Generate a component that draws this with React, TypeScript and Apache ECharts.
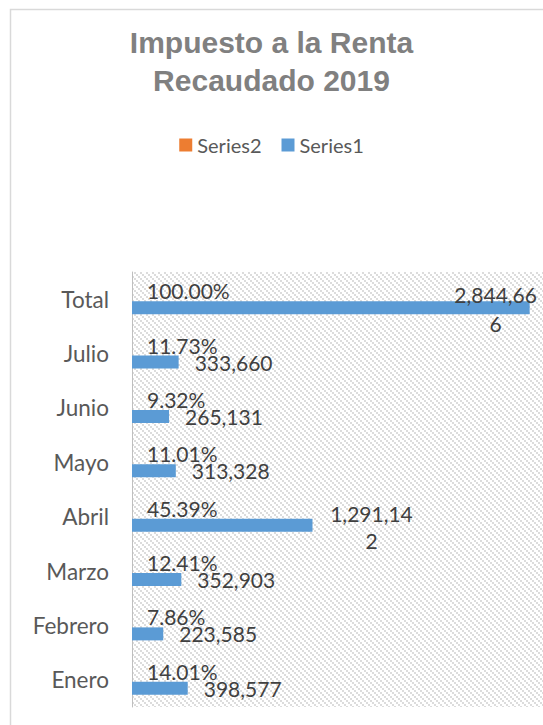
import React, { useEffect, useRef } from 'react';
import * as echarts from 'echarts';

const titleText = 'Impuesto a la Renta\nRecaudado 2019';
const categories = ['Enero', 'Febrero', 'Marzo', 'Abril', 'Mayo', 'Junio', 'Julio', 'Total'];
const series1Values = [398577, 223585, 352903, 1291142, 313328, 265131, 333660, 2844666];
const series2Values = [0.1401, 0.0786, 0.1241, 0.4539, 0.1101, 0.0932, 0.1173, 1.0];
const legendOrder = ['Series2', 'Series1'];

const FONT = 'Lato, Carlito, Calibri, sans-serif';

function makeHatch(): string {
  const c = document.createElement('canvas');
  const n = 6;
  c.width = n;
  c.height = n;
  const ctx = c.getContext('2d')!;
  ctx.fillStyle = '#ffffff';
  ctx.fillRect(0, 0, n, n);
  ctx.fillStyle = '#dcdcdc';
  for (let i = 0; i < n; i += 2) {
    ctx.fillRect(i, i, 2, 2);
  }
  return c.toDataURL();
}

const fmt = (v: number) => v.toLocaleString('en-US');
const fmtWrap = (v: number) => {
  const s = fmt(v);
  return s.length > 8 ? s.slice(0, 8) + '\n' + s.slice(8) : s;
};

export default function App() {
  const ref = useRef<HTMLDivElement>(null);
  useEffect(() => {
    document.body.style.margin = '0';
    if (!ref.current) return;
    const chart = echarts.init(ref.current, undefined, { renderer: 'svg' });
    const hatch = makeHatch();

    const s1Data = categories.map((c, i) => {
      const v = series1Values[i];
      if (c === 'Total') {
        return {
          value: v,
          label: {
            position: ['100%', '50%'],
            offset: [-34, 1],
            align: 'center',
            verticalAlign: 'middle',
            lineHeight: 29,
            formatter: () => fmtWrap(v),
          },
        };
      }
      if (c === 'Abril') {
        return {
          value: v,
          label: {
            position: ['100%', '50%'],
            offset: [59, 2],
            align: 'center',
            verticalAlign: 'middle',
            lineHeight: 27,
            formatter: () => fmtWrap(v),
          },
        };
      }
      return v;
    });

    chart.setOption({
      animation: false,
      backgroundColor: '#ffffff',
      title: {
        text: titleText,
        left: 'center',
        top: 18,
        textStyle: {
          fontFamily: '"Liberation Sans", Arial, sans-serif',
          fontWeight: 'bold',
          fontSize: 30,
          lineHeight: 38,
          color: '#808080',
        },
      },
      legend: {
        data: legendOrder,
        top: 130,
        left: 'center',
        itemWidth: 13,
        itemHeight: 13,
        itemGap: 20,
        icon: 'rect',
        textStyle: { fontFamily: FONT, fontSize: 20, color: '#595959' },
      },
      grid: {
        left: 132,
        top: 272,
        right: 0,
        bottom: 18,
        show: true,
        borderWidth: 0,
        backgroundColor: { image: hatch, repeat: 'repeat' },
      },
      xAxis: {
        type: 'value',
        min: 0,
        max: 2940000,
        show: false,
        splitLine: { show: false },
      },
      yAxis: {
        type: 'category',
        data: categories,
        axisLine: { show: true, lineStyle: { color: '#bfbfbf', width: 1 } },
        axisTick: { show: false },
        axisLabel: { fontFamily: FONT, fontSize: 22.5, color: '#595959', margin: 23 },
      },
      series: [
        {
          name: 'Series2',
          type: 'bar',
          data: series2Values,
          barWidth: 13,
          barGap: '30%',
          itemStyle: { color: '#ed7d31' },
          label: {
            show: true,
            position: 'right',
            distance: 15,
            fontFamily: FONT,
            fontSize: 21,
            color: '#404040',
            formatter: (p: any) => (p.value * 100).toFixed(2) + '%',
          },
        },
        {
          name: 'Series1',
          type: 'bar',
          data: s1Data,
          barWidth: 13,
          barGap: '30%',
          itemStyle: { color: '#5b9bd5' },
          label: {
            show: true,
            position: 'right',
            distance: 16,
            fontFamily: FONT,
            fontSize: 21,
            color: '#404040',
            formatter: (p: any) => fmt(p.value),
          },
        },
      ],
      graphic: [
        {
          type: 'rect',
          silent: true,
          shape: { x: 10.5, y: 9.5, width: 600, height: 800 },
          style: { fill: 'none', stroke: '#d9d9d9', lineWidth: 1.5 },
        },
      ],
    });
    return () => chart.dispose();
  }, []);
  return <div ref={ref} style={{ width: 543, height: 725 }} />;
}
